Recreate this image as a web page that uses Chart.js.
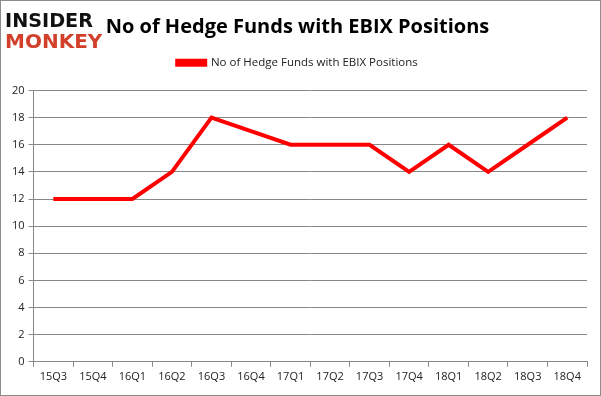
<!DOCTYPE html>
<html>
<head>
<meta charset="utf-8">
<script src="https://cdn.jsdelivr.net/npm/chart.js@4"></script>
<style>
  html, body { margin: 0; padding: 0; background: #fff; }
  #wrap { width: 601px; height: 396px; position: relative; }
</style>
</head>
<body>
<div id="wrap"><canvas id="hedgeChart" width="601" height="396"></canvas></div>
<script>
const quarters = ["15Q3", "15Q4", "16Q1", "16Q2", "16Q3", "16Q4", "17Q1", "17Q2", "17Q3", "17Q4", "18Q1", "18Q2", "18Q3", "18Q4"];
const fundCounts = [12, 12, 12, 14, 18, 17, 16, 16, 16, 14, 16, 14, 16, 18];
const seriesName = "No of Hedge Funds with EBIX Positions";

const fontFamily = "'Open Sans', 'DejaVu Sans', sans-serif";

// extra room under the legend
const legendGap = {
  id: 'legendGap',
  beforeInit(chart) {
    const origFit = chart.legend.fit;
    chart.legend.fit = function () {
      origFit.bind(chart.legend)();
      this.height += 12;
    };
  }
};

// border + logo
const decor = {
  id: 'decor',
  afterDraw(chart) {
    const c = chart.ctx;
    c.save();
    c.strokeStyle = '#8c8c8c';
    c.lineWidth = 1;
    c.strokeRect(0.5, 0.5, 600, 395);
    c.textBaseline = 'alphabetic';
    c.font = "bold 20px 'DejaVu Sans'";
    c.fillStyle = '#111';
    c.fillText('INSIDER', 5, 27, 88);
    c.fillStyle = '#d2402c';
    c.fillText('MONKEY', 5, 48, 100);
    c.restore();
  }
};

new Chart(document.getElementById('hedgeChart'), {
  type: 'line',
  data: {
    labels: quarters,
    datasets: [{
      label: seriesName,
      data: fundCounts,
      borderColor: '#ff0000',
      backgroundColor: '#ff0000',
      borderWidth: 4,
      pointRadius: 0,
      tension: 0
    }]
  },
  options: {
    responsive: false,
    animation: false,
    layout: { padding: { left: 8, right: 14, top: 2, bottom: 10 } },
    plugins: {
      title: {
        display: true,
        text: 'No of Hedge Funds with EBIX Positions',
        color: '#000',
        font: { family: fontFamily, size: 20, weight: 'bold' },
        padding: { top: 13, bottom: 6 }
      },
      legend: {
        labels: {
          boxWidth: 28,
          boxHeight: 4,
          padding: 12,
          color: '#222',
          font: { family: fontFamily, size: 11.5 }
        }
      },
      tooltip: { enabled: false }
    },
    scales: {
      x: {
        offset: true,
        grid: { offset: true, drawOnChartArea: false, color: '#888', tickLength: 5 },
        border: { color: '#888' },
        ticks: { color: '#222', font: { family: fontFamily, size: 11 }, maxRotation: 0, autoSkip: false, padding: 3 }
      },
      y: {
        min: 0,
        max: 20,
        ticks: { stepSize: 2, color: '#222', font: { family: fontFamily, size: 11 }, padding: 4 },
        grid: { color: '#888', tickLength: 5 },
        border: { color: '#888' }
      }
    }
  },
  plugins: [legendGap, decor]
});
</script>
</body>
</html>
